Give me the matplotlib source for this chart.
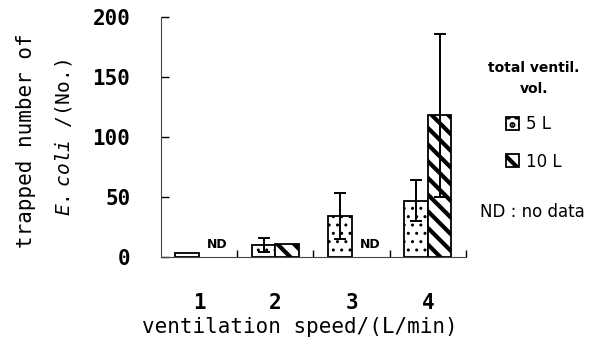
import matplotlib
matplotlib.use("Agg")
import matplotlib.pyplot as plt
import numpy as np

plt.rcParams["font.family"] = ["DejaVu Sans Mono"]
plt.rcParams["mathtext.fontset"] = "custom"
plt.rcParams["mathtext.it"] = "DejaVu Sans Mono:italic"
plt.rcParams["mathtext.rm"] = "DejaVu Sans Mono"

speeds = ["1", "2", "3", "4"]
vol_5l = [3, 10, 34, 47]
err_5l = [0, 6, 19, 17]
vol_10l = [np.nan, 11, np.nan, 118]
err_10l = [0, 0, 0, 68]
nd_positions = [1, 3]

fig = plt.figure(figsize=(5.93, 3.38), dpi=100)
ax = fig.add_axes([0.2715, 0.2396, 0.5143, 0.7101])

x = np.arange(1, len(speeds) + 1)
w = 0.31


def set_hatch_lw(bars, lw):
    for b in bars:
        try:
            b.set_hatch_linewidth(lw)
        except AttributeError:
            pass


plt.rcParams["hatch.linewidth"] = 1.0
b5 = ax.bar(x - w / 2, vol_5l, width=w, color="white", edgecolor="black",
            linewidth=1.3, hatch="..", label="5 L")
set_hatch_lw(b5, 1.0)
plt.rcParams["hatch.linewidth"] = 3.0
b10 = ax.bar(x + w / 2, vol_10l, width=w, color="white", edgecolor="black",
             linewidth=1.3, hatch="\\\\", label="10 L")
set_hatch_lw(b10, 3.0)

# error bars (skip those with no spread)
for xs, vals, errs in [(x - w / 2, vol_5l, err_5l), (x + w / 2, vol_10l, err_10l)]:
    keep = [i for i, e in enumerate(errs) if e > 0]
    ax.errorbar(xs[keep], np.array(vals)[keep], yerr=np.array(errs)[keep],
                fmt="none", ecolor="black", elinewidth=1.4, capsize=4, capthick=1.4)

for p in nd_positions:
    ax.text(p + 0.24, 5, "ND", ha="center", va="bottom", fontsize=9,
            fontweight="bold", family="DejaVu Sans")

ax.set_xlim(0.5, 4.5)
ax.set_ylim(0, 200)
ax.set_yticks([0, 50, 100, 150, 200])
ax.set_xticks(x)
ax.set_xticklabels(speeds)
ax.set_xticks([1.5, 2.5, 3.5, 4.5], minor=True)
ax.tick_params(axis="x", which="major", length=0, labelsize=15, pad=26)
ax.tick_params(axis="x", which="minor", direction="in", length=5, width=1)
ax.tick_params(axis="y", direction="in", length=6, width=1, labelsize=15, pad=22)
for lab in ax.get_xticklabels() + ax.get_yticklabels():
    lab.set_fontweight("bold")

for s in ["top", "right"]:
    ax.spines[s].set_visible(False)
ax.spines["left"].set_color("#444444")
ax.spines["bottom"].set_color("#444444")

ax.set_xlabel("ventilation speed/(L/min)", fontsize=15, va="center")
ax.xaxis.set_label_coords(0.456, -0.29)

fig.text(26 / 593, 1 - 141 / 338, "trapped number of", rotation=90,
         ha="center", va="center", fontsize=15)
fig.text(63 / 593, 1 - 138 / 338, "$\\it{E.\\ coli}$ /(No.)", rotation=90,
         ha="center", va="center", fontsize=14)

leg = fig.legend(loc="upper center", bbox_to_anchor=(0.9, 0.865), frameon=False,
                 title="total ventil.\nvol.",
                 title_fontproperties={"size": 10, "weight": "bold", "family": "DejaVu Sans"},
                 prop={"size": 12, "family": "DejaVu Sans"},
                 handlelength=0.8, handleheight=0.8, handletextpad=0.4,
                 labelspacing=1.15)
leg.get_title().set_multialignment("center")
leg.get_title().set_linespacing(1.7)

fig.text(0.898, 0.373, "ND : no data", ha="center", va="center", fontsize=12,
         family="DejaVu Sans")

fig.savefig("out.png", dpi=100)
